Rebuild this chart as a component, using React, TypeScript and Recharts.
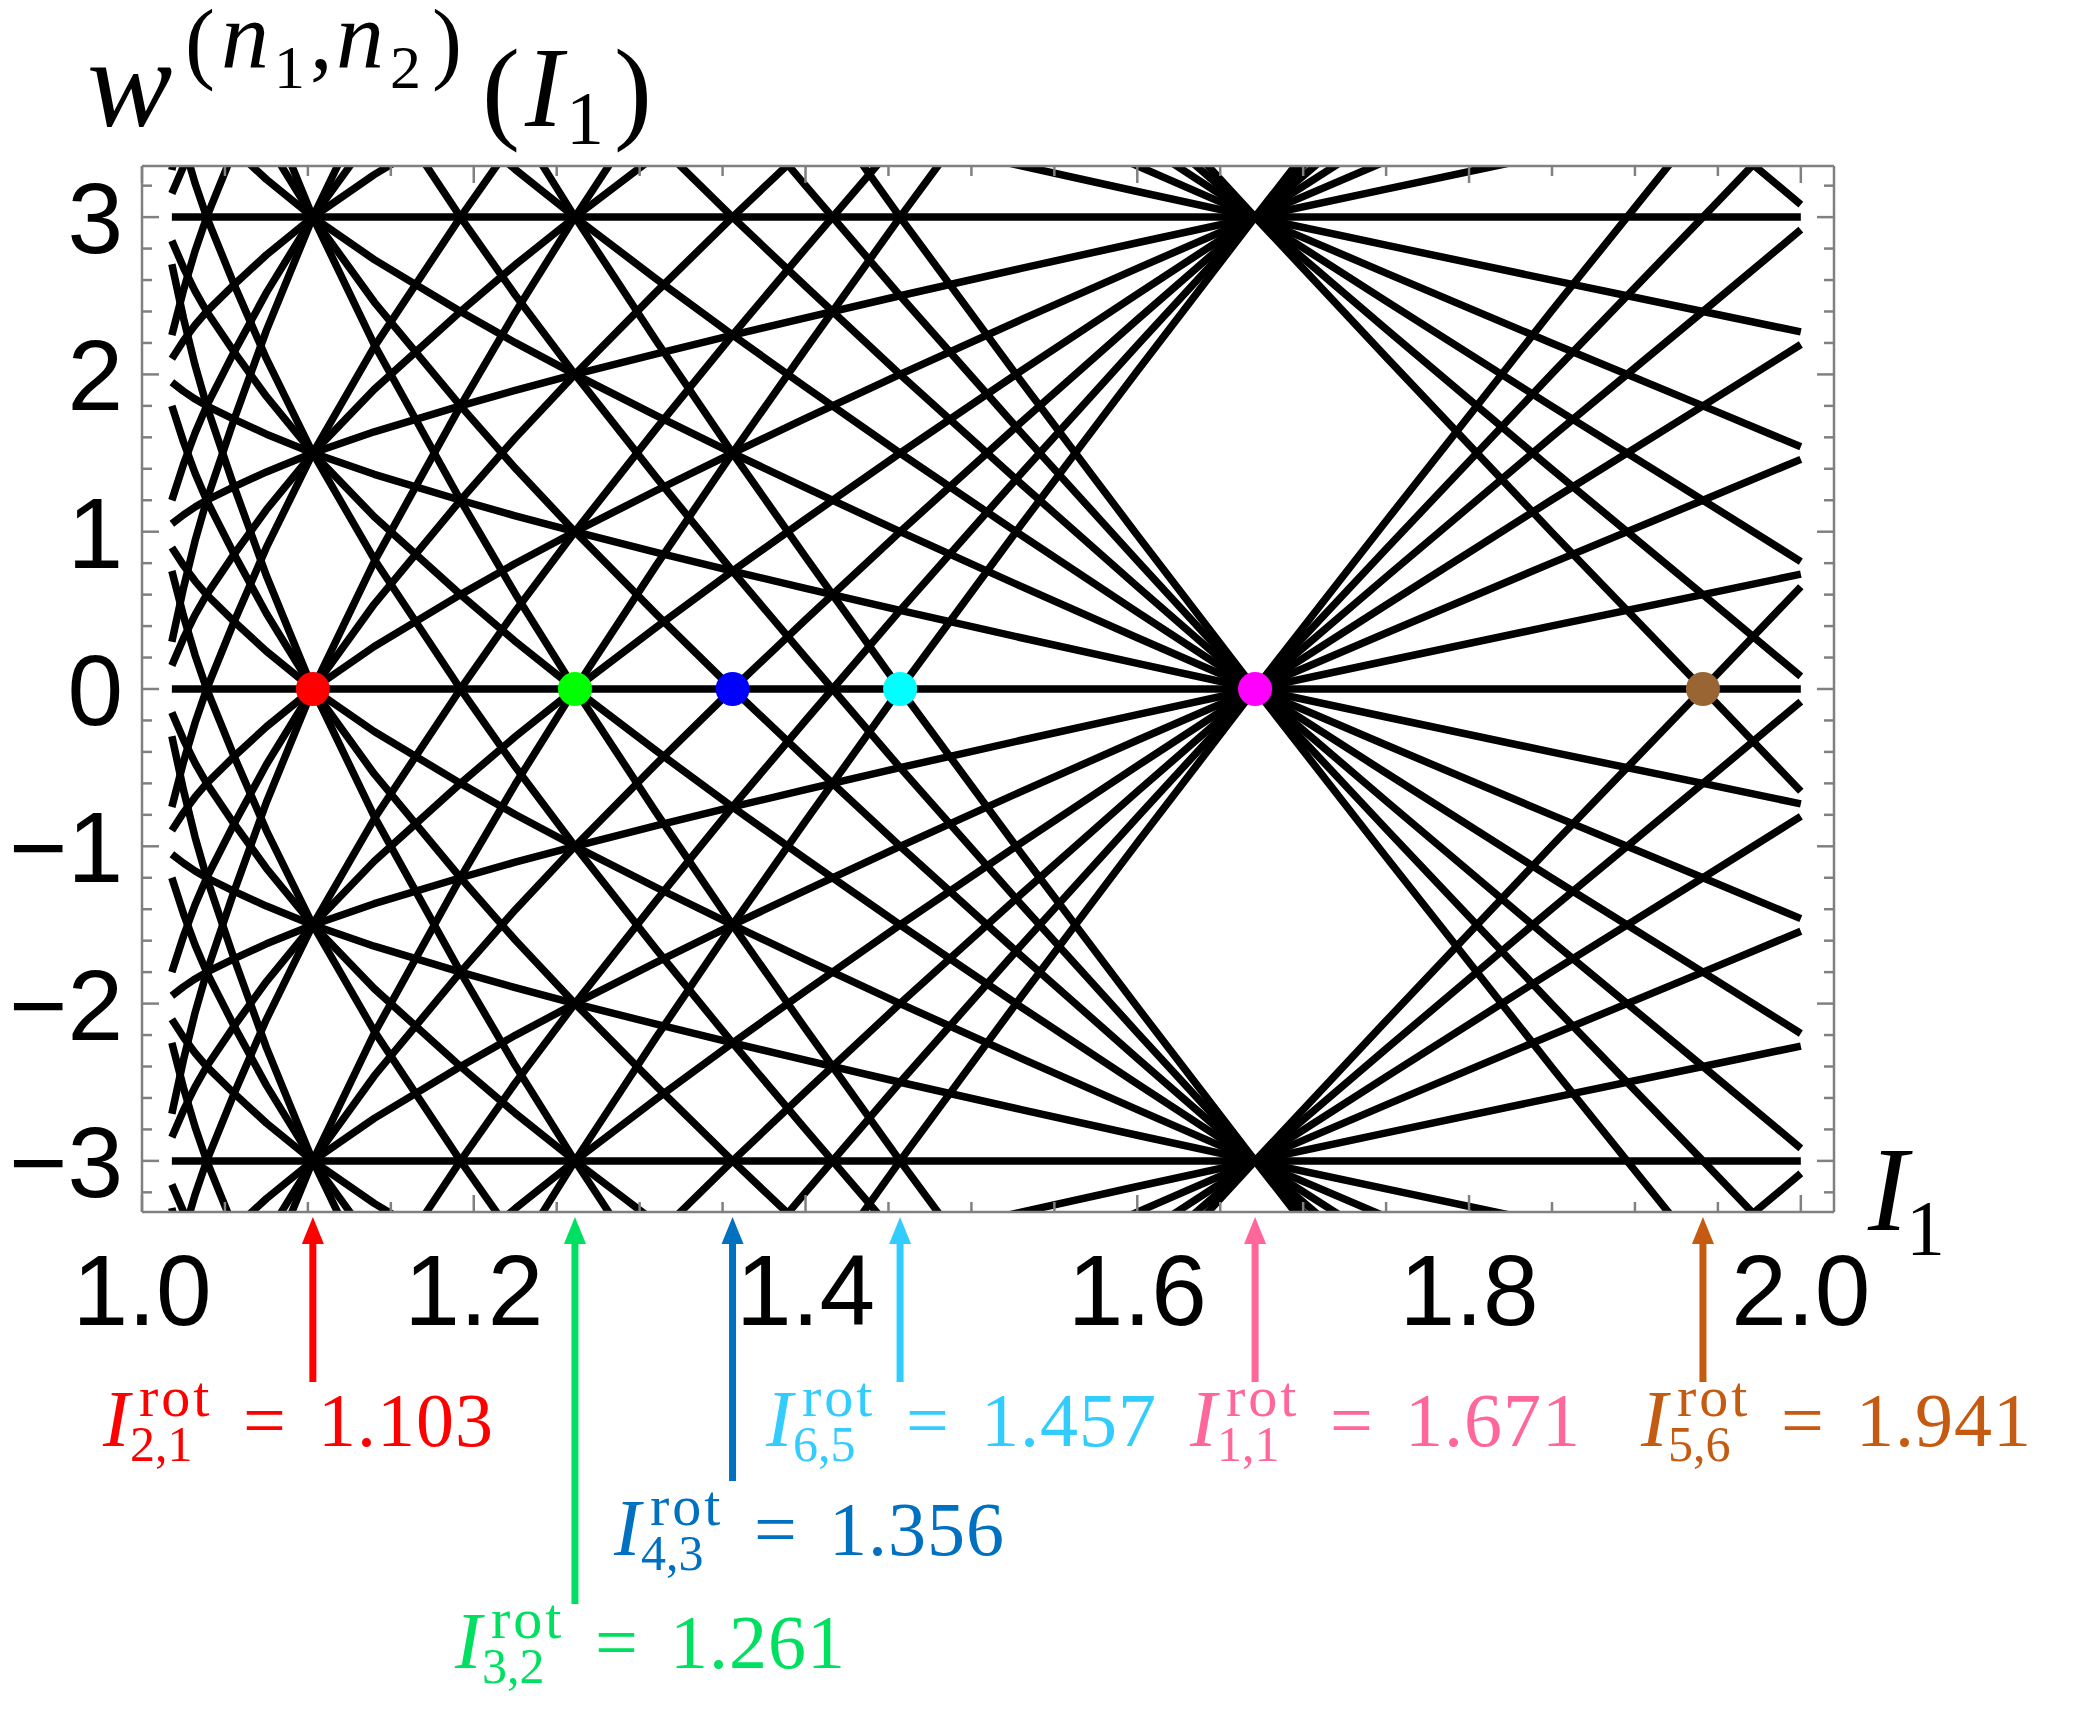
import React from 'react';
import { LineChart, Line, XAxis, YAxis, ReferenceDot } from 'recharts';

const actionI1 = [1.018, 1.025, 1.032, 1.039, 1.055, 1.075, 1.103, 1.14, 1.192, 1.225, 1.261, 1.31, 1.356, 1.4, 1.457, 1.53, 1.6, 1.671, 1.75, 1.85, 1.941, 2.0];
const omega1 = [1.05, 1.107, 1.157, 1.2, 1.283, 1.38, 1.5, 1.635, 1.8, 1.899, 2.0, 2.131, 2.25, 2.36, 2.5, 2.674, 2.837, 3.0, 3.178, 3.401, 3.6, 3.73];
const omega2 = 3;

// mode numbers drawn: |n1| <= 6, |n2| <= 6
const n1Values = [-6, -5, -4, -3, -2, -1, 0, 1, 2, 3, 4, 5, 6];
const n2Values = [-6, -5, -4, -3, -2, -1, 0, 1, 2, 3, 4, 5, 6];

// resonances marked below the axis
const rotModes = ['2,1', '3,2', '4,3', '6,5', '1,1', '5,6'];
const rotValues = [1.103, 1.261, 1.356, 1.457, 1.671, 1.941];

const xTicks = [1.0, 1.05, 1.1, 1.15, 1.2, 1.25, 1.3, 1.35, 1.4, 1.45, 1.5, 1.55, 1.6, 1.65, 1.7, 1.75, 1.8, 1.85, 1.9, 1.95, 2.0];
const xLabels = [1.0, 1.2, 1.4, 1.6, 1.8, 2.0];
const yTicks = [-3.2, -3.0, -2.8, -2.6, -2.4, -2.2, -2.0, -1.8, -1.6, -1.4, -1.2, -1.0, -0.8, -0.6, -0.4, -0.2, 0, 0.2, 0.4, 0.6, 0.8, 1.0, 1.2, 1.4, 1.6, 1.8, 2.0, 2.2, 2.4, 2.6, 2.8, 3.0, 3.2];
const yLabels = [-3, -2, -1, 0, 1, 2, 3];

// styles
const dotColors = ['#ff0000', '#00ff00', '#0000ff', '#00ffff', '#ff00ff', '#996633'];
const noteColors = ['#ff0000', '#00e060', '#0070c0', '#33ccff', '#ff6699', '#c55a11'];
const noteLayout = [
  { lx: 95, by: 1438, tail: 1374 },
  { lx: 447, by: 1660, tail: 1596 },
  { lx: 606, by: 1547, tail: 1473 },
  { lx: 758, by: 1438, tail: 1374 },
  { lx: 1182, by: 1438, tail: 1374 },
  { lx: 1633, by: 1438, tail: 1374 },
];

const W = 2062;
const H = 1702;
const X_DOMAIN: [number, number] = [1.0, 2.02];
const Y_DOMAIN: [number, number] = [-3.325, 3.325];
const PLOT = { left: 134, top: 158, width: 1692, height: 1046 };
const FRAME = '#808080';
const SANS = 'Liberation Sans, Arial, sans-serif';
const SERIF = 'Liberation Serif, Times New Roman, serif';

const series = n1Values
  .flatMap((n1) => n2Values.map((n2) => ({ n1, n2 })))
  .map(({ n1, n2 }) => ({
    key: `${n1}_${n2}`,
    points: actionI1.map((I, i) => ({ I, w: n1 * omega1[i] - n2 * omega2 })),
  }))
  .filter((s) => {
    const ws = s.points.map((p) => p.w);
    return Math.min(...ws) <= 3.4 && Math.max(...ws) >= -3.4;
  });

const near = (list: number[], v: number) => list.some((l) => Math.abs(l - v) < 1e-6);
const fmtY = (v: number) => (v < 0 ? `\u2212${-v}` : `${v}`);

const BottomTick = (p: any) => {
  const v = p.payload.value;
  const major = near(xLabels, v);
  return (
    <g>
      <line x1={p.x} x2={p.x} y1={p.y} y2={p.y - (major ? 17 : 10)} stroke={FRAME} strokeWidth={2.5} />
      {major && (
        <text x={p.x} y={p.y + 113} textAnchor="middle" fontFamily={SANS} fontSize={100} fill="#000">
          {v.toFixed(1)}
        </text>
      )}
    </g>
  );
};

const TopTick = (p: any) => {
  const major = near(xLabels, p.payload.value);
  return <line x1={p.x} x2={p.x} y1={p.y} y2={p.y + (major ? 17 : 10)} stroke={FRAME} strokeWidth={2.5} />;
};

const LeftTick = (p: any) => {
  const v = p.payload.value;
  const major = near(yLabels, v);
  return (
    <g>
      <line x1={p.x} x2={p.x + (major ? 17 : 10)} y1={p.y} y2={p.y} stroke={FRAME} strokeWidth={2.5} />
      {major && (
        <text x={p.x - 19} y={p.y + 36} textAnchor="end" fontFamily={SANS} fontSize={100} fill="#000">
          {fmtY(Math.round(v))}
        </text>
      )}
    </g>
  );
};

const RightTick = (p: any) => {
  const major = near(yLabels, p.payload.value);
  return <line x1={p.x} x2={p.x - (major ? 17 : 10)} y1={p.y} y2={p.y} stroke={FRAME} strokeWidth={2.5} />;
};

const xPx = (I: number) => PLOT.left + ((I - X_DOMAIN[0]) / (X_DOMAIN[1] - X_DOMAIN[0])) * PLOT.width;

const Note = ({ i }: { i: number }) => {
  const c = noteColors[i];
  const { lx, by, tail } = noteLayout[i];
  const ax = xPx(rotValues[i]);
  const tip = PLOT.top + PLOT.height + 5;
  return (
    <g fill={c}>
      <line x1={ax} x2={ax} y1={tip + 22} y2={tail} stroke={c} strokeWidth={7} />
      <polygon points={`${ax},${tip} ${ax - 11},${tip + 27} ${ax + 11},${tip + 27}`} />
      <text fontFamily={SERIF}>
        <tspan x={lx} y={by} fontSize={80} fontStyle="italic">I</tspan>
        <tspan x={lx + 36} y={by - 30} fontSize={58} letterSpacing={3}>rot</tspan>
        <tspan x={lx + 27} y={by + 15} fontSize={50}>{rotModes[i]}</tspan>
        <tspan x={lx + 140} y={by} fontSize={76}>=</tspan>
        <tspan x={lx + 215} y={by} fontSize={76} letterSpacing={1}>{rotValues[i].toFixed(3)}</tspan>
      </text>
    </g>
  );
};

const App = () => {
  return (
    <div style={{ position: 'relative', width: W, height: H }}>
      <LineChart width={W} height={H} margin={{ top: 148, right: 226, bottom: 398, left: 14 }}>
        <XAxis
          xAxisId="b"
          dataKey="I"
          type="number"
          orientation="bottom"
          domain={X_DOMAIN}
          allowDataOverflow
          ticks={xTicks}
          interval={0}
          height={100}
          tickSize={0}
          tickMargin={0}
          tickLine={false}
          axisLine={{ stroke: FRAME, strokeWidth: 2.5 }}
          tick={BottomTick}
        />
        <XAxis
          xAxisId="t"
          dataKey="I"
          type="number"
          orientation="top"
          domain={X_DOMAIN}
          allowDataOverflow
          ticks={xTicks}
          interval={0}
          height={10}
          tickSize={0}
          tickMargin={0}
          tickLine={false}
          axisLine={{ stroke: FRAME, strokeWidth: 2.5 }}
          tick={TopTick}
        />
        <YAxis
          yAxisId="l"
          type="number"
          orientation="left"
          domain={Y_DOMAIN}
          allowDataOverflow
          ticks={yTicks}
          interval={0}
          width={120}
          tickSize={0}
          tickMargin={0}
          tickLine={false}
          axisLine={{ stroke: FRAME, strokeWidth: 2.5 }}
          tick={LeftTick}
        />
        <YAxis
          yAxisId="r"
          type="number"
          orientation="right"
          domain={Y_DOMAIN}
          allowDataOverflow
          ticks={yTicks}
          interval={0}
          width={10}
          tickSize={0}
          tickMargin={0}
          tickLine={false}
          axisLine={{ stroke: FRAME, strokeWidth: 2.5 }}
          tick={RightTick}
        />
        {series.map((s) => (
          <Line
            key={s.key}
            xAxisId="b"
            yAxisId="l"
            data={s.points}
            dataKey="w"
            type="linear"
            stroke="#000"
            strokeWidth={7.5}
            strokeLinejoin="round"
            dot={false}
            activeDot={false}
            isAnimationActive={false}
          />
        ))}
        {rotValues.map((I, i) => (
          <ReferenceDot key={rotModes[i]} xAxisId="b" yAxisId="l" x={I} y={0} r={17} fill={dotColors[i]} stroke="none" />
        ))}
      </LineChart>
      <svg width={W} height={H} style={{ position: 'absolute', left: 0, top: 0, pointerEvents: 'none' }}>
        <text fontFamily={SERIF} fill="#000">
          <tspan x={79} y={118} fontSize={128} fontStyle="italic">w</tspan>
          <tspan x={177} y={64} fontSize={90}>(</tspan>
          <tspan x={213} y={60} fontSize={96} fontStyle="italic">n</tspan>
          <tspan x={266} y={80} fontSize={62}>1</tspan>
          <tspan x={302} y={60} fontSize={90}>,</tspan>
          <tspan x={328} y={60} fontSize={96} fontStyle="italic">n</tspan>
          <tspan x={382} y={80} fontSize={62}>2</tspan>
          <tspan x={424} y={64} fontSize={90}>)</tspan>
          <tspan x={474} y={120} fontSize={114}>(</tspan>
          <tspan x={517} y={118} fontSize={114} fontStyle="italic">I</tspan>
          <tspan x={558} y={136} fontSize={76}>1</tspan>
          <tspan x={606} y={120} fontSize={114}>)</tspan>
        </text>
        <text fontFamily={SERIF} fill="#000">
          <tspan x={1860} y={1222} fontSize={120} fontStyle="italic">I</tspan>
          <tspan x={1898} y={1246} fontSize={78}>1</tspan>
        </text>
        {rotValues.map((_, i) => (
          <Note key={i} i={i} />
        ))}
      </svg>
    </div>
  );
};

export default App;
